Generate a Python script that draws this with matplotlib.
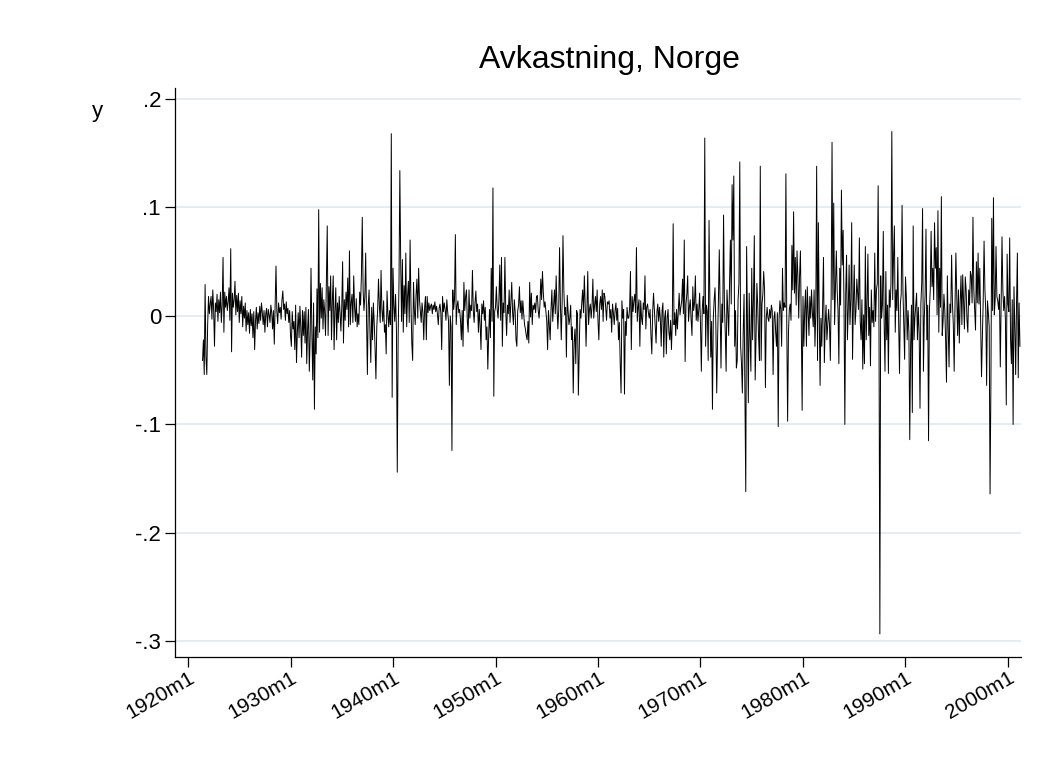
import numpy as np
import matplotlib.pyplot as plt

plt.rcParams['font.family'] = ['Liberation Sans', 'DejaVu Sans']

# monthly returns in percent, one row per year, 1921m6 - 2001m3
r1920s = [
    -4.1, -2.2, -5.4, 2.9, -3.8, -5.4, -0.8,
    1.8, 0.2, 1.1, 1.8, -0.3, 2.4, 0.6, -2.8, 1.2, 0.4, 2.0, -0.5,
    1.5, 0.3, 2.2, -0.6, 1.0, 5.4, -1.5, 2.2, 0.8, 1.8, 0.5, 1.3,
    2.6, -0.4, 6.2, -3.3, 2.1, 0.8, 1.5, 3.2, 0.1, 1.9, 0.4, 2.1,
    -0.6, 1.4, 0.2, 1.8, -1.0, 0.9, -0.2, 1.2, -1.4, 0.5, -0.8, 0.3,
    -1.6, 0.6, -0.9, 0.2, -2.0, 0.4, -3.1, -0.5, 0.8, -1.2, 0.3, -0.7,
    0.9, -0.4, 1.2, 0.3, -0.8, 0.5, -1.5, 0.2, 0.7, -1.0, 0.6, 0.1,
    -0.6, 1.0, 0.3, -1.2, 0.5, -2.6, 0.8, 4.6, 0.4, -0.7, 1.2, 0.3,
    0.8, -0.3, 1.5, 2.3, 0.6, 1.1, -0.4, 1.3, 0.2, 0.7, -0.6, 0.5,
]
r1930s = [
    -1.8, -2.8, 0.4, -1.2, -0.5, -3.1, 1.0, -4.3, -1.5, 0.3, -2.0, 0.9,
    -1.0, -3.8, 0.5, -1.8, 0.4, -2.5, 0.8, -4.4, -1.2, 0.6, -5.1, -2.0,
    4.4, -1.5, -5.9, 1.2, -8.6, -1.0, -3.5, 2.5, -2.0, 9.8, -1.5, 3.0,
    -0.2, 2.6, -1.2, 1.5, 0.4, -1.8, 3.0, 8.3, -1.8, 2.7, 0.5, 3.7,
    -2.2, 1.4, 3.7, -3.1, 0.5, 2.6, -2.2, 1.2, -0.6, 1.8, 0.3, -1.4,
    0.8, 5.0, -2.5, 1.5, -0.4, 2.2, 0.6, 3.5, -1.0, 6.0, -0.8, 1.2,
    2.0, -0.6, 3.7, 0.8, -0.5, 1.6, -1.0, 0.2, -0.8, 2.2, 1.0, 3.7,
    9.1, 2.4, 0.5, 1.8, 5.8, -0.3, -5.4, 1.0, 2.4, -1.5, -4.3, 0.8,
    -2.2, 1.2, -0.6, -3.0, -5.8, -1.0, 0.5, 3.4, 1.0, -0.6, 4.2, 0.6,
    -0.5, 1.4, -1.5, -0.8, -3.5, 2.3, 0.2, -1.0, 0.5, -0.8, 16.8, -7.5,
]
r1940s = [
    4.4, 1.0, -0.5, 2.0, -1.2, -14.4, -2.0, 3.0, 13.4, 5.0, -0.5, 5.2,
    -1.5, 2.8, 0.2, 5.8, -1.0, 1.8, 3.2, -0.6, 7.0, 1.2, -2.5, -4.1,
    3.1, 0.5, -0.8, 2.0, 3.4, -0.2, 4.4, 1.5, 0.5, -0.6, 1.2, 0.3,
    -2.2, 0.8, 1.8, -2.2, 1.8, 0.3, 1.2, 0.5, 0.9, 1.1, 0.2, 1.0,
    0.6, 1.3, 0.4, 0.9, 0.2, -0.8, 0.7, 1.1, 0.3, -3.1, 1.8, 0.4,
    1.2, 0.6, -0.4, 1.5, 0.4, -0.5, -6.4, 0.0, -1.0, -12.4, 2.4, 0.6,
    1.5, 7.5, -0.8, 0.9, 1.4, 0.3, 0.6, -0.4, -2.2, 0.5, -2.8, 3.1,
    0.5, 1.8, 2.4, -0.5, -1.5, 2.4, -0.2, 1.0, 0.5, 4.2, 0.5, -0.6,
    1.2, 2.3, 0.4, 1.1, -1.5, 0.6, -0.8, -3.1, 1.1, 0.2, 1.4, -0.4,
    0.8, -2.2, -1.0, -4.9, -1.8, 0.6, -2.0, 4.4, -0.5, 11.8, -7.4, 0.4,
]
r1950s = [
    0.8, 2.7, 0.6, -0.2, 1.5, 4.7, -0.4, 5.4, -2.8, 1.2, 0.3, 5.4,
    0.5, -1.8, 1.0, 0.2, 2.4, -0.6, 1.2, 3.1, 0.3, -0.8, 1.5, 0.4,
    -2.2, -2.8, 0.5, 1.0, 2.7, 0.3, 1.4, -0.3, 1.4, 0.2, -0.8, -1.2,
    -1.8, -2.2, -0.5, -2.5, 3.1, -0.1, 2.1, -0.8, 1.0, 0.6, 1.2, 0.3,
    1.8, 1.9, 0.5, -0.2, 1.0, 3.4, 1.5, 4.1, 2.1, 0.8, 1.3, 0.4,
    -0.5, -3.1, 0.5, -0.9, -2.2, 0.6, 2.4, -0.5, 1.0, 2.4, 0.2, 3.7,
    0.8, -1.2, 0.5, 6.3, 1.0, -2.2, 1.2, 7.4, 2.4, 0.1, 0.8, -3.8,
    1.9, 0.4, -0.8, -0.2, 1.0, -2.2, -1.0, -7.1, -2.5, -1.2, -4.4, 0.5,
    0.2, -7.3, -3.1, 0.6, -0.2, 1.2, 2.4, 0.3, 3.7, 1.0, -2.8, 0.4,
    4.1, -0.8, 0.6, 1.1, -0.2, 0.9, 3.4, -0.2, 1.0, 1.8, 0.4, 2.4,
]
r1960s = [
    -0.5, -2.2, 1.1, 1.8, 0.6, 2.4, -0.5, 2.1, 1.8, 0.8, -0.4, 1.3,
    1.1, 1.4, -0.2, 0.6, -1.5, 1.1, 0.3, -0.8, 0.5, 1.2, -0.4, 0.7,
    -2.2, -0.6, -4.4, -7.1, 1.4, -0.2, 0.6, -7.2, -0.5, -1.8, 0.8, -0.2,
    -0.2, 0.7, 4.1, -3.1, 1.8, 0.4, 1.4, 2.0, 0.3, 6.3, -0.5, 0.8,
    1.5, -2.8, 1.4, -0.2, -0.8, 1.2, 0.6, 3.7, -1.2, 0.8, 1.1, 0.3,
    -0.2, 0.6, -1.8, -3.5, 0.4, 2.1, 0.5, -1.2, -2.5, 0.4, 1.1, -0.5,
    0.8, -0.3, -2.8, 0.5, 1.2, -3.8, -0.2, 0.5, -3.5, -0.2, 0.6, -1.5,
    -2.2, -0.4, -3.1, -0.5, 8.5, -0.8, 0.3, -1.8, 0.6, -1.2, 0.4, 2.1,
    0.1, 0.8, 1.4, 3.4, 0.2, 7.0, -4.2, 1.1, 2.0, 3.7, -0.5, 0.8,
    1.5, -0.3, -1.8, 2.7, 0.5, 1.2, 3.7, -0.4, 1.1, -0.5, 0.6, 2.1,
]
r1970s = [
    -0.8, -5.1, 0.5, 1.8, 0.2, 16.4, -2.8, 1.0, 0.4, -4.1, 8.8, 1.2,
    -3.8, -0.5, -8.6, -0.2, 1.5, 2.6, -1.0, -7.1, -2.2, 1.5, 6.1, 0.3,
    -4.8, 1.1, -0.6, 9.3, 1.1, -1.5, -5.1, 2.4, 0.5, -1.8, 3.0, 7.0,
    1.1, 12.1, 7.0, 12.9, -2.8, 0.5, -4.8, -4.1, 1.5, 3.0, 14.2, -2.8,
    -4.4, -7.1, -1.5, 2.0, -7.7, -16.2, 6.4, -1.0, -8.0, 2.1, -2.0, -5.1,
    4.4, -2.2, 1.5, 7.4, -5.9, -2.2, 3.0, 1.0, -2.0, -4.1, 13.8, -4.1,
    1.1, 2.0, 4.1, 2.4, -6.6, -0.2, 0.8, -0.2, -0.5, 0.6, -0.2, 1.0,
    0.5, -5.4, -0.2, 0.4, -1.5, -2.8, 0.3, -10.2, -0.2, 1.4, 0.6, -2.8,
    4.4, 0.5, 1.2, 0.8, 13.1, -0.8, -9.7, -1.5, 0.6, 1.1, -0.4, 6.5,
    2.4, 9.6, 2.1, 5.4, 1.0, 6.0, 3.7, -0.2, 3.7, 6.0, -0.8, -8.7,
]
r1980s = [
    1.8, -2.8, 0.6, 2.4, -2.8, 2.7, 0.5, -1.8, 1.8, -0.2, 2.4, 0.3,
    -1.0, 2.4, -2.8, 0.4, 13.8, -4.1, 8.6, 0.2, -6.4, -0.2, -2.8, 1.0,
    5.4, -4.3, -0.8, 1.0, -2.2, -0.8, 0.6, -0.8, -4.1, 2.0, 16.0, 1.5,
    10.4, -0.8, 2.5, 6.0, 2.4, 0.5, -4.4, 4.4, 1.0, 11.6, 4.7, 7.9,
    1.2, -10.0, 2.0, 5.6, -2.2, 0.6, 4.7, -0.8, 1.5, 8.6, -4.0, 1.1,
    4.7, -0.8, 0.5, 3.4, 2.1, 0.6, 7.2, -0.5, -2.2, 1.5, -4.9, 0.1,
    -4.4, 6.4, -2.2, 1.1, 5.7, -1.8, 0.8, -4.6, 2.4, -0.6, 0.5, -1.0,
    5.8, -0.5, 2.4, 3.0, 12.0, -1.5, -29.3, 3.7, -0.2, 1.0, 7.8, -0.6,
    -5.1, 4.1, -2.2, 1.0, -5.3, 2.4, 0.8, 3.0, 17.0, 1.5, 5.4, 8.3,
    -1.5, 2.4, 0.5, 5.4, -0.6, -5.3, 1.1, 2.0, 10.2, 2.4, -1.0, -4.0,
]
r1990s = [
    3.6, 1.8, -2.2, 0.5, -1.5, -11.4, -2.8, 1.0, -8.9, 8.3, -2.2, -0.2,
    1.0, 2.1, -2.2, 0.8, -1.5, -8.5, 1.1, 3.0, 9.9, -5.1, -0.2, 2.0,
    8.0, -2.2, 1.0, -11.5, 0.5, 2.4, 7.8, 2.7, 4.4, 1.5, 8.6, 4.4,
    6.3, 0.1, 9.7, -1.5, 4.4, 0.8, 11.0, -1.8, -0.5, 2.0, 0.6, -2.2,
    -6.1, 3.7, -1.0, -4.7, 1.1, 0.3, 5.6, 1.1, -0.8, -5.1, 1.0, 5.8,
    2.1, -1.8, 2.4, -2.5, 1.2, 3.7, -0.8, 3.8, 1.4, -1.2, 3.6, 2.4,
    -0.4, -1.5, 2.4, 1.0, 4.1, 3.7, 1.2, 9.1, 2.4, 0.6, -1.3, 5.0,
    1.2, 5.8, 1.1, 4.4, -0.6, -5.6, -2.2, 1.5, 6.9, 2.4, 0.5, -6.4,
    1.4, 0.3, -1.0, -16.4, -6.4, 9.0, 0.5, 10.9, 0.1, 1.5, 6.4, 1.8,
    1.4, 0.6, 2.0, -4.7, 1.0, 7.3, 2.4, 0.5, 1.8, -0.4, -8.2, 5.7,
]
r2000s = [
    1.1, 0.4, 7.2, -2.2, -4.4, 1.5, -10.0, 2.7, -1.0, -5.4, 1.2, 5.8,
    -5.7, 1.2, -2.8,
]

y_ticks = [0.2, 0.1, 0.0, -0.1, -0.2, -0.3]
y_labels = ['.2', '.1', '0', '-.1', '-.2', '-.3']
x_ticks = list(range(1920, 2001, 10))
x_labels = [f'{yr}m1' for yr in x_ticks]

y = np.array(r1920s + r1930s + r1940s + r1950s + r1960s + r1970s + r1980s + r1990s + r2000s) / 100
t = 1921 + 5 / 12 + np.arange(len(y)) / 12

fig = plt.figure(figsize=(10.57, 7.71), dpi=100)
ax = fig.add_axes([175 / 1057, 114 / 771, 846 / 1057, 569 / 771])

grid_col = '#e4eef1'
for v in y_ticks:
    ax.axhline(v, color=grid_col, lw=1.4, zorder=0)

ax.plot(t, y, color='black', lw=0.7)

ax.set_xlim(1918.73, 2001.27)
ax.set_ylim(-0.3143, 0.2101)
ax.set_yticks(y_ticks)
ax.set_yticklabels(y_labels)
ax.set_xticks(x_ticks)
ax.set_xticklabels(x_labels, rotation=30, ha='right', va='top', rotation_mode='anchor')

for s in ['top', 'right']:
    ax.spines[s].set_visible(False)
ax.spines['left'].set_linewidth(0.9)
ax.spines['bottom'].set_linewidth(0.9)
ax.tick_params(axis='both', direction='out', length=7, width=0.9)
ax.tick_params(axis='y', labelsize=16, pad=3)
ax.tick_params(axis='x', labelsize=15, pad=1)

fig.text(609 / 1057, 1 - 60 / 771, 'Avkastning, Norge', ha='center', va='center', fontsize=23)
fig.text(97 / 1057, 1 - 111 / 771, 'y', ha='center', va='center', fontsize=16)

fig.savefig('out.png', dpi=100, facecolor='white')
